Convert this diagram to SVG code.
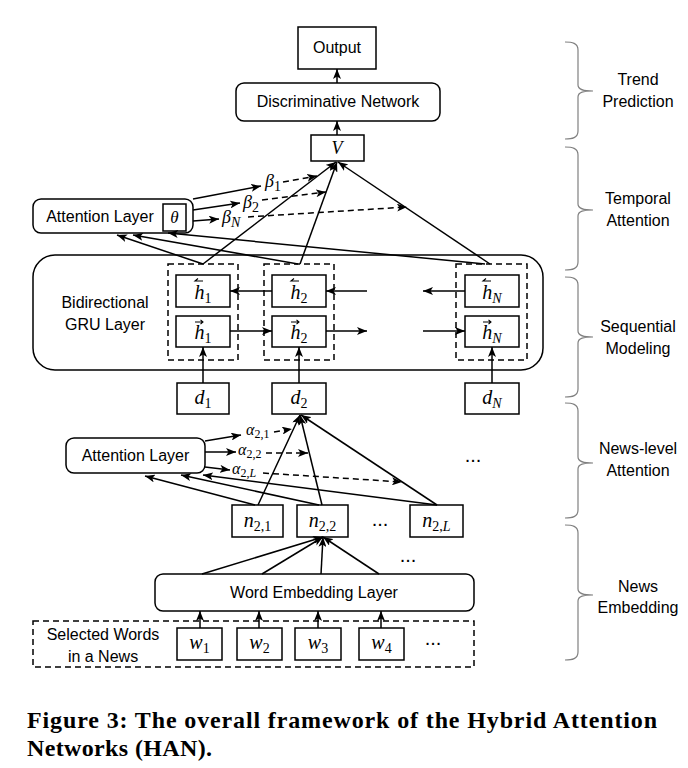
<svg xmlns="http://www.w3.org/2000/svg" width="688" height="768" viewBox="0 0 688 768">
<defs>
<marker id="ah" viewBox="0 0 10 8" refX="10" refY="4" markerWidth="10" markerHeight="8" markerUnits="userSpaceOnUse" orient="auto">
<path d="M0,0 L10,4 L0,8 L2.5,4 z" fill="#000" stroke="none"/>
</marker>
<style>
.box{fill:#fff;stroke:#000;stroke-width:1.5}
.dbox{fill:none;stroke:#000;stroke-width:1.5;stroke-dasharray:6 4}
.c{fill:none;stroke:#000;stroke-width:1.5;marker-end:url(#ah)}
.cd{fill:none;stroke:#000;stroke-width:1.5;stroke-dasharray:6 4;marker-end:url(#ah)}
.t{font-family:"Liberation Sans",Arial,sans-serif;font-size:16px;fill:#000;text-anchor:middle}
.m{font-family:"Liberation Serif","Times New Roman",serif;font-style:italic;font-size:20px;fill:#000;text-anchor:middle}
.ml{font-family:"Liberation Serif","Times New Roman",serif;font-style:italic;font-size:18px;fill:#000}
.sub{font-style:normal;font-size:14px}
.subi{font-style:italic;font-size:14px}
.acc{fill:none;stroke:#000;stroke-width:1.1}
.brace{fill:none;stroke:#808080;stroke-width:1.2}
.lab{font-family:"Liberation Sans",Arial,sans-serif;font-size:16px;fill:#000;text-anchor:middle}
.dots{font-family:"Liberation Sans",Arial,sans-serif;font-size:20px;fill:#000;text-anchor:middle}
.cap{font-family:"Liberation Serif","Times New Roman",serif;font-weight:bold;font-size:24px;fill:#000}
</style>
</defs>

<!-- Trend prediction -->
<g id="output"><rect class="box" x="298" y="27" width="78" height="42"/><text class="t" x="337" y="53">Output</text></g>
<g id="discriminative"><rect class="box" x="236" y="83" width="204" height="38" rx="8"/><text class="t" x="338" y="107">Discriminative Network</text></g>
<g id="V"><rect class="box" x="311" y="135" width="53" height="26"/><text class="m" x="337" y="154" style="font-size:18px">V</text></g>

<!-- Temporal attention -->
<g id="attention-top"><rect class="box" x="33" y="199" width="160" height="34" rx="8"/><text class="t" x="100" y="222">Attention Layer</text>
<rect class="box" x="163" y="204" width="23" height="27"/><text class="m" x="174.5" y="223" style="font-size:17px">θ</text></g>
<g id="beta1"><text class="ml" x="265" y="187">β<tspan class="sub" dy="4">1</tspan></text></g>
<g id="beta2"><text class="ml" x="243" y="208">β<tspan class="sub" dy="4">2</tspan></text></g>
<g id="betaN"><text class="ml" x="222" y="223">β<tspan class="subi" dy="4">N</tspan></text></g>

<!-- GRU -->
<g id="gru"><rect class="box" x="33" y="255" width="510" height="115" rx="22"/>
<text class="t" x="105" y="308">Bidirectional</text><text class="t" x="105" y="330">GRU Layer</text></g>
<g id="h1"><rect class="dbox" x="168" y="264" width="70" height="96"/>
<rect class="box" x="176" y="275" width="54" height="32"/><path class="acc" d="M203,281 L195,281 L198,278.5"/><text class="m" x="203" y="299">h<tspan class="sub" dy="4">1</tspan></text>
<rect class="box" x="176" y="316" width="54" height="31"/><path class="acc" d="M195,322 L203,322 M200.5,319.8 L203,322 L200.5,324.2"/><text class="m" x="203" y="339">h<tspan class="sub" dy="4">1</tspan></text></g>
<g id="h2"><rect class="dbox" x="264" y="264" width="70" height="96"/>
<rect class="box" x="272" y="275" width="54" height="32"/><path class="acc" d="M299,281 L291,281 L294,278.5"/><text class="m" x="299" y="299">h<tspan class="sub" dy="4">2</tspan></text>
<rect class="box" x="272" y="316" width="54" height="31"/><path class="acc" d="M291,322 L299,322 M296.5,319.8 L299,322 L296.5,324.2"/><text class="m" x="299" y="339">h<tspan class="sub" dy="4">2</tspan></text></g>
<g id="hN"><rect class="dbox" x="456" y="264" width="71" height="96"/>
<rect class="box" x="465" y="275" width="54" height="32"/><path class="acc" d="M491,281 L483,281 L486,278.5"/><text class="m" x="492" y="299">h<tspan class="subi" dy="4">N</tspan></text>
<rect class="box" x="465" y="316" width="54" height="31"/><path class="acc" d="M483,322 L491,322 M488.5,319.8 L491,322 L488.5,324.2"/><text class="m" x="492" y="339">h<tspan class="subi" dy="4">N</tspan></text></g>
<g id="d1"><rect class="box" x="177" y="383" width="52" height="31"/><text class="m" x="203" y="404">d<tspan class="sub" dy="4">1</tspan></text></g>
<g id="d2"><rect class="box" x="272" y="383" width="54" height="31"/><text class="m" x="299" y="404">d<tspan class="sub" dy="4">2</tspan></text></g>
<g id="dN"><rect class="box" x="465" y="383" width="54" height="31"/><text class="m" x="492" y="404">d<tspan class="subi" dy="4">N</tspan></text></g>

<!-- News-level attention -->
<g id="attention-news"><rect class="box" x="66" y="438" width="139" height="35" rx="8"/><text class="t" x="135.5" y="461">Attention Layer</text></g>
<g id="alpha21"><text class="ml" x="246" y="435" style="font-size:16px">α<tspan class="sub" dy="3" style="font-size:12px">2,1</tspan></text></g>
<g id="alpha22"><text class="ml" x="238" y="455" style="font-size:16px">α<tspan class="sub" dy="3" style="font-size:12px">2,2</tspan></text></g>
<g id="alpha2L"><text class="ml" x="232" y="474" style="font-size:16px">α<tspan class="sub" dy="3" style="font-size:12px">2,</tspan><tspan class="subi" style="font-size:12px">L</tspan></text></g>
<g id="n21"><rect class="box" x="232" y="505" width="51" height="32"/><text class="m" x="257.5" y="527">n<tspan class="sub" dy="4">2,1</tspan></text></g>
<g id="n22"><rect class="box" x="297" y="505" width="51" height="32"/><text class="m" x="322.5" y="527">n<tspan class="sub" dy="4">2,2</tspan></text></g>
<g id="n2L"><rect class="box" x="410" y="505" width="53" height="32"/><text class="m" x="436.5" y="527">n<tspan class="sub" dy="4">2,</tspan><tspan class="subi">L</tspan></text></g>
<g id="dots"><text class="dots" x="473" y="462">...</text><text class="dots" x="380" y="526">...</text><text class="dots" x="408" y="562">...</text><text class="dots" x="433" y="645">...</text></g>

<!-- News embedding -->
<g id="embedding"><rect class="box" x="155" y="574" width="319" height="37" rx="8"/><text class="t" x="314" y="598">Word Embedding Layer</text></g>
<g id="words"><rect class="dbox" x="33" y="621" width="441" height="46"/>
<text class="t" x="103" y="640">Selected Words</text><text class="t" x="103" y="662">in a News</text></g>
<g id="w1"><rect class="box" x="177" y="628" width="45" height="32"/><text class="m" x="199.5" y="649">w<tspan class="sub" dy="4">1</tspan></text></g>
<g id="w2"><rect class="box" x="237" y="628" width="45" height="32"/><text class="m" x="259.5" y="649">w<tspan class="sub" dy="4">2</tspan></text></g>
<g id="w3"><rect class="box" x="295" y="628" width="46" height="32"/><text class="m" x="318" y="649">w<tspan class="sub" dy="4">3</tspan></text></g>
<g id="w4"><rect class="box" x="359" y="628" width="45" height="32"/><text class="m" x="381.5" y="649">w<tspan class="sub" dy="4">4</tspan></text></g>

<g id="connectors">
<line class="c" x1="337" y1="83" x2="337" y2="69"/>
<line class="c" x1="337" y1="135" x2="337" y2="121"/>
<line class="c" x1="193" y1="199" x2="261" y2="186"/>
<line class="cd" x1="283" y1="182" x2="317" y2="176"/>
<line class="c" x1="193" y1="210" x2="240" y2="203"/>
<line class="cd" x1="262" y1="200" x2="326" y2="192"/>
<line class="c" x1="193" y1="221" x2="219" y2="219"/>
<line class="cd" x1="248" y1="217" x2="407" y2="207"/>
<line class="c" x1="203" y1="264" x2="336" y2="162"/>
<line class="c" x1="300" y1="264" x2="337" y2="162"/>
<line class="c" x1="490" y1="264" x2="338" y2="162"/>
<line class="c" x1="203" y1="264" x2="117" y2="235"/>
<line class="c" x1="298" y1="264" x2="133" y2="235"/>
<line class="c" x1="485" y1="264" x2="168" y2="233"/>
<line class="c" x1="272" y1="291" x2="230" y2="291"/>
<line class="c" x1="367" y1="291" x2="326" y2="291"/>
<line class="c" x1="465" y1="291" x2="423" y2="291"/>
<line class="c" x1="230" y1="331" x2="272" y2="331"/>
<line class="c" x1="326" y1="331" x2="367" y2="331"/>
<line class="c" x1="423" y1="331" x2="465" y2="331"/>
<line class="c" x1="203" y1="383" x2="203" y2="347"/>
<line class="c" x1="299" y1="383" x2="299" y2="347"/>
<line class="c" x1="492" y1="383" x2="492" y2="347"/>
<line class="c" x1="205" y1="441" x2="241" y2="435"/>
<line class="cd" x1="274" y1="432" x2="292" y2="429"/>
<line class="c" x1="205" y1="452" x2="236" y2="452"/>
<line class="cd" x1="266" y1="453" x2="308" y2="453"/>
<line class="c" x1="205" y1="467" x2="230" y2="470"/>
<line class="cd" x1="263" y1="473" x2="402" y2="482"/>
<line class="c" x1="258" y1="505" x2="300" y2="415"/>
<line class="c" x1="322" y1="505" x2="300" y2="415"/>
<line class="c" x1="437" y1="505" x2="301" y2="415"/>
<line class="c" x1="255" y1="505" x2="145" y2="476"/>
<line class="c" x1="319" y1="505" x2="181" y2="475"/>
<line class="c" x1="437" y1="505" x2="203" y2="475"/>
<line class="c" x1="202" y1="574" x2="323" y2="537"/>
<line class="c" x1="262" y1="574" x2="323" y2="537"/>
<line class="c" x1="321" y1="574" x2="323" y2="537"/>
<line class="c" x1="379" y1="574" x2="323" y2="537"/>
<line class="c" x1="200" y1="628" x2="200" y2="611"/>
<line class="c" x1="259" y1="628" x2="259" y2="611"/>
<line class="c" x1="318" y1="628" x2="318" y2="611"/>
<line class="c" x1="381" y1="628" x2="381" y2="611"/>
</g>

<g id="braces">
<path class="brace" d="M565,42 C572,42 578,43 578,50 L578,85 C578,90 584,91 593,91 C584,91 578,92 578,97 L578,131 C578,138 572,139 565,139"/>
<path class="brace" d="M565,147 C572,147 578,148 578,155 L578,204 C578,209 584,210 593,210 C584,210 578,211 578,216 L578,262 C578,269 572,270 565,270"/>
<path class="brace" d="M565,277 C572,277 578,278 578,285 L578,331 C578,336 584,337 593,337 C584,337 578,338 578,343 L578,389 C578,396 572,397 565,397"/>
<path class="brace" d="M565,403 C572,403 578,404 578,411 L578,457 C578,462 584,463 593,463 C584,463 578,464 578,469 L578,510 C578,517 572,518 565,518"/>
<path class="brace" d="M565,525 C572,525 578,526 578,533 L578,589 C578,594 584,595 593,595 C584,595 578,596 578,601 L578,652 C578,659 572,660 565,660"/>
<text class="lab" x="638" y="85">Trend</text><text class="lab" x="638" y="107">Prediction</text>
<text class="lab" x="638" y="204">Temporal</text><text class="lab" x="638" y="226">Attention</text>
<text class="lab" x="638" y="332">Sequential</text><text class="lab" x="638" y="354">Modeling</text>
<text class="lab" x="638" y="454">News-level</text><text class="lab" x="638" y="476">Attention</text>
<text class="lab" x="638" y="592">News</text><text class="lab" x="638" y="613">Embedding</text>
</g>

<g id="caption">
<text class="cap" x="27" y="728" textLength="630" lengthAdjust="spacing">Figure 3: The overall framework of the Hybrid Attention</text>
<text class="cap" x="27" y="756" textLength="185" lengthAdjust="spacing">Networks (HAN).</text>
</g>
</svg>
